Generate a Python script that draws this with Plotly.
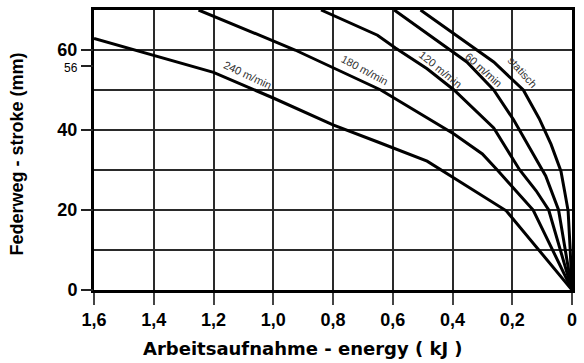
import plotly.graph_objects as go

# ---- data ----
energy_240 = [1.6, 1.4, 1.2, 1.0, 0.8, 0.65, 0.485, 0.395, 0.352, 0.22, 0.0]
stroke_240 = [62.9, 58.7, 54.4, 48.0, 41.3, 37.0, 32.2, 28.0, 26.0, 19.8, 0.0]

energy_180 = [1.25, 1.0, 0.927, 0.64, 0.485, 0.395, 0.30, 0.25, 0.13, 0.0]
stroke_180 = [70.0, 62.4, 60.0, 50.0, 43.0, 39.0, 34.0, 30.0, 20.0, 0.0]

energy_120 = [0.84, 0.651, 0.591, 0.485, 0.395, 0.262, 0.175, 0.12, 0.078, 0.0]
stroke_120 = [70.0, 63.7, 60.5, 55.3, 50.0, 40.5, 30.0, 24.8, 20.0, 0.0]

energy_60 = [0.595, 0.5, 0.396, 0.352, 0.262, 0.196, 0.13, 0.088, 0.045, 0.0]
stroke_60 = [70.0, 65.0, 59.5, 57.0, 50.0, 42.6, 34.0, 28.5, 20.0, 0.0]

energy_static = [0.507, 0.319, 0.262, 0.163, 0.11, 0.07, 0.037, 0.025, 0.013, 0.006, 0.0]
stroke_static = [70.0, 60.0, 57.0, 50.0, 42.9, 36.4, 29.7, 24.8, 19.8, 10.0, 0.0]

series_names = ["240 m/min", "180 m/min", "120 m/min", "60 m/min", "statisch"]

x_tick_vals = [1.6, 1.4, 1.2, 1.0, 0.8, 0.6, 0.4, 0.2, 0.0]
x_tick_text = ["1,6", "1,4", "1,2", "1,0", "0,8", "0,6", "0,4", "0,2", "0"]
y_grid_vals = [0, 10, 20, 30, 40, 50, 60, 70]
y_tick_vals = [0, 20, 40, 56, 60]
y_tick_text = ["0", "20", "40",
               "<span style='font-size:12px;font-weight:normal'>56</span>", "60"]

x_title = "Arbeitsaufnahme - energy ( kJ )"
y_title = "Federweg - stroke (mm)"

# ---- figure ----
fig = go.Figure()
curves = [(energy_240, stroke_240), (energy_180, stroke_180), (energy_120, stroke_120),
          (energy_60, stroke_60), (energy_static, stroke_static)]
for (ex, sy), name in zip(curves, series_names):
    fig.add_trace(go.Scatter(x=ex, y=sy, mode="lines", name=name,
                             line=dict(color="black", width=3), showlegend=False,
                             cliponaxis=True))

# empty trace so the tick-carrying overlay axis is drawn
fig.add_trace(go.Scatter(x=[], y=[], yaxis="y2", showlegend=False, hoverinfo="skip"))

grid_col = "#2a2a2a"
tick_font = dict(family="Liberation Sans", size=18, color="black", weight="bold")

fig.update_layout(
    width=584, height=363,
    margin=dict(l=94, r=8, t=7, b=73),
    paper_bgcolor="white", plot_bgcolor="white",
    xaxis=dict(range=[1.6, 0], tickmode="array", tickvals=x_tick_vals, ticktext=x_tick_text,
               ticks="outside", ticklen=12, tickwidth=1.5, tickcolor="#444",
               showgrid=True, gridcolor=grid_col, gridwidth=1.5, zeroline=False,
               showline=True, mirror=True, linecolor="black", linewidth=2.5,
               tickfont=tick_font),
    yaxis=dict(range=[0, 70], tickmode="array", tickvals=y_grid_vals,
               showticklabels=False, ticks="",
               showgrid=True, gridcolor=grid_col, gridwidth=1.5, zeroline=False,
               showline=True, mirror=True, linecolor="black", linewidth=2.5),
    yaxis2=dict(range=[0, 70], overlaying="y", side="left", anchor="x",
                tickmode="array", tickvals=y_tick_vals, ticktext=y_tick_text,
                ticks="outside", ticklen=12, tickwidth=1.5, tickcolor="#222",
                showgrid=False, zeroline=False, showline=False,
                tickfont=tick_font),
)

# curve labels
label_pos = [(1.085, 53.8, 25), (0.694, 55.0, 28), (0.441, 55.3, 39),
             (0.295, 55.0, 42), (0.166, 54.5, 48)]
for name, (lx, ly, ang) in zip(series_names, label_pos):
    fig.add_annotation(x=lx, y=ly, xref="x", yref="y", text=name, showarrow=False,
                       textangle=ang, font=dict(family="Liberation Sans", size=11, color="#333"),
                       bgcolor="rgba(0,0,0,0)")

fig.add_annotation(x=0.4367, y=-0.2085, xref="paper", yref="paper", text=x_title,
                   showarrow=False, xanchor="center", yanchor="middle",
                   font=dict(family="DejaVu Sans", size=18, color="black", weight="bold"))
fig.add_annotation(x=-0.1618, y=0.486, xref="paper", yref="paper", text=y_title,
                   showarrow=False, xanchor="center", yanchor="middle", textangle=-90,
                   font=dict(family="Liberation Sans", size=18, color="black", weight="bold"))

fig.write_html("out.html")
